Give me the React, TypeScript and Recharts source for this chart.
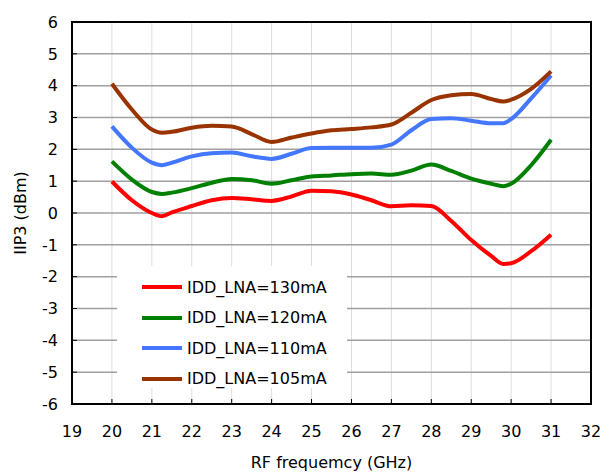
import {
  LineChart,
  Line,
  XAxis,
  YAxis,
  CartesianGrid,
  Legend,
  ReferenceArea,
  Label,
} from 'recharts';

const freqs = [20, 20.5, 21, 21.25, 21.5, 22, 22.5, 23, 23.5, 24, 24.5, 25, 25.5, 26, 26.5, 27, 27.5, 28, 28.5, 29, 29.5, 29.8, 30, 30.5, 31];

const idd130 = [0.99, 0.4, 0.0, -0.1, 0.02, 0.22, 0.4, 0.47, 0.43, 0.38, 0.52, 0.7, 0.68, 0.58, 0.4, 0.21, 0.24, 0.22, -0.25, -0.85, -1.35, -1.6, -1.58, -1.2, -0.68];
const idd120 = [1.62, 1.05, 0.66, 0.6, 0.64, 0.78, 0.95, 1.07, 1.03, 0.92, 1.03, 1.15, 1.18, 1.22, 1.24, 1.2, 1.33, 1.52, 1.32, 1.08, 0.92, 0.84, 0.92, 1.5, 2.3];
const idd110 = [2.72, 2.05, 1.58, 1.5, 1.58, 1.78, 1.88, 1.9, 1.78, 1.7, 1.86, 2.04, 2.05, 2.05, 2.05, 2.15, 2.6, 2.95, 2.98, 2.9, 2.82, 2.82, 2.95, 3.6, 4.32];
const idd105 = [4.06, 3.25, 2.62, 2.52, 2.55, 2.68, 2.74, 2.72, 2.48, 2.23, 2.37, 2.5, 2.6, 2.64, 2.69, 2.78, 3.15, 3.55, 3.7, 3.74, 3.58, 3.5, 3.56, 3.9, 4.45];

const xTicks = [19, 20, 21, 22, 23, 24, 25, 26, 27, 28, 29, 30, 31, 32];
const yTicks = [-6, -5, -4, -3, -2, -1, 0, 1, 2, 3, 4, 5, 6];

const series = [
  { key: 'i130', name: 'IDD_LNA=130mA', color: '#ff0000', values: idd130 },
  { key: 'i120', name: 'IDD_LNA=120mA', color: '#008000', values: idd120 },
  { key: 'i110', name: 'IDD_LNA=110mA', color: '#4477ff', values: idd110 },
  { key: 'i105', name: 'IDD_LNA=105mA', color: '#993300', values: idd105 },
];

const data = freqs.map((f, i) => {
  const row: { [key: string]: number } = { f };
  series.forEach((s) => {
    row[s.key] = s.values[i];
  });
  return row;
});

const font = '"DejaVu Sans", Verdana, sans-serif';

function LegendBox() {
  return (
    <div style={{ paddingTop: 6 }}>
      {series.map((s) => (
        <div
          key={s.key}
          style={{ display: 'flex', alignItems: 'center', height: 30.5, fontFamily: font, fontSize: 16, color: '#000' }}
        >
          <div style={{ width: 40, height: 4, background: s.color, marginLeft: 25, marginRight: 5 }} />
          <span>{s.name}</span>
        </div>
      ))}
    </div>
  );
}

export default function App() {
  return (
    <div style={{ position: 'absolute', left: 0, top: 0, width: 613, height: 474, background: '#fff' }}>
      <LineChart width={613} height={474} data={data} margin={{ top: 22, right: 22, bottom: 0, left: 0 }}>
        <CartesianGrid horizontal={false} stroke="#dddddd" strokeWidth={1} />
        <CartesianGrid vertical={false} stroke="#a0a0a0" strokeWidth={1.5} />
        <XAxis
          type="number"
          dataKey="f"
          domain={[19, 32]}
          ticks={xTicks}
          interval={0}
          height={70}
          tickSize={-5}
          tickMargin={27}
          axisLine={{ stroke: '#000', strokeWidth: 2 }}
          tickLine={{ stroke: '#000' }}
          tick={{ fill: '#000', fontSize: 16, fontFamily: font }}
        >
          <Label value="RF frequemcy (GHz)" position="center" dy={23} style={{ fill: '#000', fontSize: 16, fontFamily: font }} />
        </XAxis>
        <YAxis
          type="number"
          domain={[-6, 6]}
          ticks={yTicks}
          interval={0}
          width={72}
          tickSize={-5}
          tickMargin={19}
          axisLine={{ stroke: '#000', strokeWidth: 2 }}
          tickLine={{ stroke: '#000' }}
          tick={{ fill: '#000', fontSize: 16, fontFamily: font }}
        >
          <Label value="IIP3 (dBm)" angle={-90} position="center" dx={-16} style={{ fill: '#000', fontSize: 16, fontFamily: font }} />
        </YAxis>
        <ReferenceArea x1={19} x2={32} y1={-6} y2={6} fill="none" stroke="#000" strokeWidth={2} />
        <Legend
          layout="vertical"
          align="center"
          verticalAlign="middle"
          content={() => <LegendBox />}
          wrapperStyle={{ left: 117, top: 266, width: 230, height: 122, background: '#fff' }}
        />
        {series.map((s) => (
          <Line
            key={s.key}
            type="monotone"
            dataKey={s.key}
            name={s.name}
            stroke={s.color}
            strokeWidth={4}
            dot={false}
            isAnimationActive={false}
          />
        ))}
      </LineChart>
    </div>
  );
}
